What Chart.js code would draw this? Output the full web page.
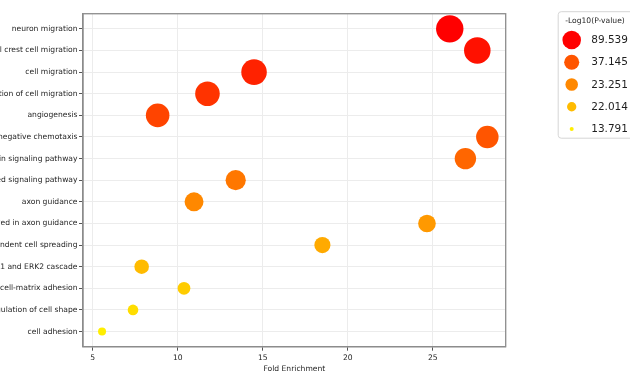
<!DOCTYPE html>
<html>
<head>
<meta charset="utf-8">
<script src="https://cdn.jsdelivr.net/npm/chart.js@4"></script>
<style>
  html, body { margin: 0; padding: 0; background: #fff; }
  #wrap { position: relative; width: 630px; height: 378px; overflow: hidden; }
  #chart { position: absolute; left: -220px; top: 0; }
</style>
</head>
<body>
<div id="wrap"><canvas id="chart" width="850" height="378"></canvas></div>
<script>
// GO terms, top to bottom
const terms = [
    "neuron migration",
    "neural crest cell migration",
    "cell migration",
    "positive regulation of cell migration",
    "angiogenesis",
    "negative chemotaxis",
    "semaphorin-plexin signaling pathway",
    "netrin-activated signaling pathway",
    "axon guidance",
    "semaphorin-plexin signaling pathway involved in axon guidance",
    "substrate adhesion-dependent cell spreading",
    "ERK1 and ERK2 cascade",
    "cell-matrix adhesion",
    "regulation of cell shape",
    "cell adhesion"
];
const foldEnrichment = [26.0, 27.62, 14.49, 11.75, 8.82, 28.21, 26.92, 13.41, 10.96, 24.66, 18.51, 7.88, 10.37, 7.37, 5.55];
const negLog10P = [89.539, 70.2, 55.6, 46.8, 41.3, 37.145, 31.9, 26.4, 23.251, 22.9, 22.4, 22.014, 19.6, 16.8, 13.791];
const legendValues = [89.539, 37.145, 23.251, 22.014, 13.791];
const xTicks = [5, 10, 15, 20, 25];

const OFFSET = 220; // canvas is shifted left so long labels get cut like the original
const TEXT = '#1e1e1e';
const SPINE = '#8c8c8c';

Chart.defaults.font.family = 'DejaVu Sans';
Chart.defaults.font.size = 7.6;
Chart.defaults.color = TEXT;

// colour and size follow the rank of -log10(p): red/large at top, yellow/small at bottom
function rankOf(v) {
    const sorted = negLog10P.slice().sort((a, b) => b - a);
    return sorted.indexOf(v);
}
function colorOf(v) {
    const g = Math.round(255 * rankOf(v) / negLog10P.length);
    return 'rgb(255,' + g + ',0)';
}
function areaOf(v) {
    return 16 + 12.3 * (negLog10P.length - 1 - rankOf(v));
}

const points = terms.map((t, i) => ({ x: foldEnrichment[i], y: i, r: Math.sqrt(areaOf(negLog10P[i])) }));

// box round the plot area (top + right spines)
const frame = {
    id: 'frame',
    afterDraw(chart) {
        const a = chart.chartArea;
        const ctx = chart.ctx;
        ctx.save();
        ctx.strokeStyle = SPINE;
        ctx.lineWidth = 1.3;
        ctx.strokeRect(a.left, a.top, a.right - a.left, a.bottom - a.top);
        ctx.restore();
    }
};

// size legend on the right
const sizeLegend = {
    id: 'sizeLegend',
    afterDraw(chart) {
        const ctx = chart.ctx;
        const x0 = chart.chartArea.right + 52;
        ctx.save();
        ctx.fillStyle = '#fff';
        ctx.strokeStyle = '#d6d6d6';
        ctx.lineWidth = 1;
        ctx.beginPath();
        ctx.roundRect(x0 + 0.5, 11.7, 140, 126.5, 3);
        ctx.fill();
        ctx.stroke();

        ctx.fillStyle = TEXT;
        ctx.font = '7.6px "DejaVu Sans"';
        ctx.textBaseline = 'middle';
        ctx.textAlign = 'left';
        ctx.fillText('-Log10(P-value)', x0 + 7.5, 20.7);

        legendValues.forEach((v, k) => {
            const y = 40 + k * 22.25;
            const rl = Math.sqrt(Math.max(0.477 * areaOf(v) - 3.6, 1));
            ctx.fillStyle = colorOf(v);
            ctx.beginPath();
            ctx.arc(x0 + 14, y, rl, 0, Math.PI * 2);
            ctx.fill();
            ctx.fillStyle = TEXT;
            ctx.font = '10.5px "DejaVu Sans"';
            ctx.fillText(v.toFixed(3), x0 + 33.5, y + 0.5);
        });
        ctx.restore();
    }
};

new Chart(document.getElementById('chart'), {
    type: 'bubble',
    data: {
        datasets: [{
            data: points,
            backgroundColor: negLog10P.map(colorOf),
            borderWidth: 0,
            hoverBorderWidth: 0
        }]
    },
    options: {
        responsive: false,
        animation: false,
        events: [],
        layout: {
            padding: { top: 12.7, right: 850 - (OFFSET + 505.7), bottom: 0, left: 0 }
        },
        plugins: {
            legend: { display: false },
            tooltip: { enabled: false }
        },
        scales: {
            x: {
                type: 'linear',
                min: 4.43,
                max: 29.29,
                afterBuildTicks: s => { s.ticks = xTicks.map(v => ({ value: v })); },
                afterFit: s => { s.height = 378 - 346.7; },
                ticks: { padding: 2.5, color: TEXT, font: { size: 7.6 } },
                grid: { color: '#ececec', lineWidth: 1, tickColor: '#555', tickLength: 4 },
                border: { display: true, color: SPINE, width: 1.3 },
                title: {
                    display: true,
                    text: 'Fold Enrichment',
                    color: TEXT,
                    font: { size: 7.6 },
                    padding: { top: 0, bottom: 4.5 }
                }
            },
            y: {
                type: 'linear',
                reverse: true,
                min: -0.7,
                max: 14.7,
                afterBuildTicks: s => { s.ticks = terms.map((t, i) => ({ value: i })); },
                afterFit: s => { s.width = OFFSET + 83; },
                ticks: {
                    autoSkip: false,
                    padding: 1.5,
                    color: TEXT,
                    font: { size: 7.6 },
                    callback: v => terms[v]
                },
                grid: { color: '#ececec', lineWidth: 1, tickColor: '#555', tickLength: 4 },
                border: { display: true, color: SPINE, width: 1.3 }
            }
        }
    },
    plugins: [frame, sizeLegend]
});
</script>
</body>
</html>
